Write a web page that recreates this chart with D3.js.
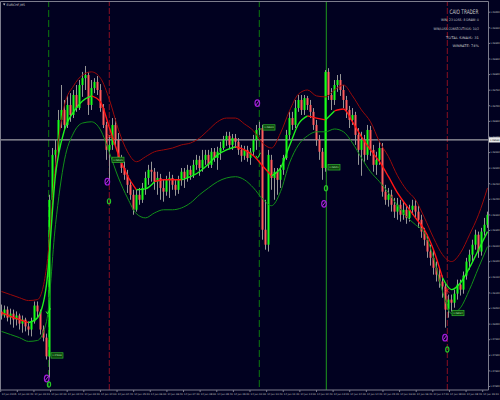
<!DOCTYPE html>
<html>
<head>
<meta charset="utf-8">
<script src="https://cdn.jsdelivr.net/npm/d3@7"></script>
<style>
html, body { margin: 0; padding: 0; background: #010120; overflow: hidden; }
text { font-family: "DejaVu Sans", sans-serif; }
</style>
</head>
<body>
<div id="chart"></div>
<script>
// EURCHF M5 bars: [open, high, low, close]
const ohlc = [
[1.08039,1.08061,1.08013,1.08026],[1.08026,1.08058,1.08019,1.08045],[1.08045,1.08055,1.08007,1.08019],
[1.08019,1.08048,1.07997,1.08032],[1.08032,1.08045,1.07987,1.08013],[1.08013,1.08039,1.07994,1.08026],
[1.08026,1.08032,1.07981,1.08000],[1.08000,1.08026,1.07971,1.08013],[1.08013,1.08019,1.07975,1.07991],
[1.07991,1.08007,1.07962,1.07981],[1.07981,1.08019,1.07959,1.08007],[1.08007,1.08071,1.08000,1.08058],
[1.08058,1.08071,1.08019,1.08039],[1.08039,1.08045,1.07965,1.07981],[1.07981,1.07994,1.07943,1.07955],
[1.07955,1.07968,1.07885,1.07895],[1.07895,1.08413,1.07827,1.08397],[1.08397,1.08563,1.08381,1.08541],
[1.08541,1.08589,1.08477,1.08557],[1.08557,1.08685,1.08541,1.08653],[1.08653,1.08765,1.08627,1.08685],
[1.08685,1.08717,1.08621,1.08637],[1.08637,1.08733,1.08627,1.08701],[1.08701,1.08739,1.08647,1.08669],
[1.08669,1.08749,1.08659,1.08733],[1.08733,1.08765,1.08679,1.08691],[1.08691,1.08781,1.08685,1.08765],
[1.08765,1.08807,1.08727,1.08787],[1.08787,1.08826,1.08749,1.08797],[1.08797,1.08807,1.08669,1.08701],
[1.08701,1.08781,1.08685,1.08755],[1.08755,1.08787,1.08739,1.08775],[1.08775,1.08794,1.08733,1.08749],
[1.08749,1.08768,1.08679,1.08691],[1.08691,1.08704,1.08627,1.08637],[1.08637,1.08647,1.08525,1.08557],
[1.08557,1.08605,1.08461,1.08573],[1.08573,1.08659,1.08557,1.08637],[1.08637,1.08659,1.08567,1.08589],
[1.08589,1.08611,1.08519,1.08531],[1.08531,1.08541,1.08483,1.08499],[1.08499,1.08519,1.08461,1.08477],
[1.08477,1.08493,1.08419,1.08445],[1.08445,1.08461,1.08397,1.08413],[1.08413,1.08429,1.08349,1.08365],
[1.08365,1.08429,1.08359,1.08413],[1.08413,1.08435,1.08381,1.08397],[1.08397,1.08451,1.08387,1.08435],
[1.08435,1.08487,1.08413,1.08467],[1.08467,1.08509,1.08445,1.08493],[1.08493,1.08519,1.08455,1.08487],
[1.08487,1.08499,1.08429,1.08455],[1.08455,1.08487,1.08413,1.08467],[1.08467,1.08480,1.08397,1.08435],
[1.08435,1.08461,1.08391,1.08423],[1.08423,1.08474,1.08410,1.08461],[1.08461,1.08487,1.08403,1.08467],
[1.08467,1.08477,1.08429,1.08445],[1.08445,1.08461,1.08410,1.08429],[1.08429,1.08474,1.08416,1.08461],
[1.08461,1.08499,1.08442,1.08487],[1.08487,1.08499,1.08435,1.08467],[1.08467,1.08509,1.08455,1.08493],
[1.08493,1.08506,1.08461,1.08477],[1.08477,1.08525,1.08467,1.08509],[1.08509,1.08541,1.08493,1.08525],
[1.08525,1.08538,1.08474,1.08499],[1.08499,1.08557,1.08487,1.08525],[1.08525,1.08557,1.08509,1.08541],
[1.08541,1.08557,1.08499,1.08509],[1.08509,1.08563,1.08499,1.08551],[1.08551,1.08563,1.08519,1.08531],
[1.08531,1.08567,1.08493,1.08551],[1.08551,1.08583,1.08525,1.08563],[1.08563,1.08602,1.08557,1.08589],
[1.08589,1.08615,1.08570,1.08602],[1.08602,1.08615,1.08563,1.08573],[1.08573,1.08608,1.08557,1.08595],
[1.08595,1.08608,1.08563,1.08583],[1.08583,1.08595,1.08541,1.08557],[1.08557,1.08573,1.08519,1.08538],
[1.08538,1.08570,1.08525,1.08557],[1.08557,1.08570,1.08519,1.08531],[1.08531,1.08563,1.08509,1.08551],
[1.08551,1.08605,1.08538,1.08589],[1.08589,1.08637,1.08557,1.08621],[1.08621,1.08647,1.08605,1.08627],
[1.08627,1.08637,1.08269,1.08301],[1.08301,1.08397,1.08237,1.08253],[1.08253,1.08557,1.08231,1.08541],
[1.08525,1.08541,1.08429,1.08467],[1.08467,1.08499,1.08397,1.08487],[1.08487,1.08499,1.08413,1.08461],
[1.08461,1.08509,1.08435,1.08493],[1.08493,1.08541,1.08477,1.08531],[1.08531,1.08621,1.08525,1.08605],
[1.08605,1.08679,1.08589,1.08659],[1.08659,1.08679,1.08621,1.08637],[1.08637,1.08717,1.08627,1.08691],
[1.08691,1.08733,1.08679,1.08717],[1.08717,1.08733,1.08669,1.08685],[1.08685,1.08733,1.08669,1.08723],
[1.08723,1.08730,1.08685,1.08701],[1.08701,1.08717,1.08659,1.08679],[1.08679,1.08691,1.08621,1.08637],
[1.08637,1.08653,1.08570,1.08589],[1.08589,1.08605,1.08525,1.08551],[1.08551,1.08563,1.08461,1.08499],
[1.08499,1.08813,1.08487,1.08807],[1.08807,1.08819,1.08717,1.08733],[1.08733,1.08755,1.08685,1.08717],
[1.08717,1.08781,1.08701,1.08765],[1.08765,1.08797,1.08743,1.08781],[1.08781,1.08800,1.08730,1.08749],
[1.08749,1.08765,1.08691,1.08717],[1.08717,1.08730,1.08659,1.08685],[1.08685,1.08698,1.08627,1.08653],
[1.08653,1.08691,1.08637,1.08669],[1.08669,1.08679,1.08573,1.08605],[1.08605,1.08627,1.08509,1.08557],
[1.08557,1.08615,1.08474,1.08589],[1.08589,1.08605,1.08519,1.08541],[1.08541,1.08637,1.08525,1.08621],
[1.08621,1.08634,1.08538,1.08557],[1.08557,1.08573,1.08487,1.08509],[1.08509,1.08551,1.08477,1.08525],
[1.08525,1.08583,1.08509,1.08563],[1.08563,1.08579,1.08407,1.08423],[1.08423,1.08445,1.08381,1.08397],
[1.08397,1.08435,1.08375,1.08413],[1.08413,1.08429,1.08359,1.08381],[1.08381,1.08403,1.08339,1.08359],
[1.08359,1.08403,1.08333,1.08381],[1.08381,1.08397,1.08327,1.08349],[1.08349,1.08391,1.08333,1.08365],
[1.08365,1.08381,1.08320,1.08339],[1.08339,1.08381,1.08327,1.08365],[1.08365,1.08397,1.08349,1.08378],
[1.08378,1.08397,1.08339,1.08359],[1.08359,1.08378,1.08307,1.08333],[1.08333,1.08349,1.08275,1.08295],
[1.08295,1.08307,1.08250,1.08269],[1.08269,1.08285,1.08211,1.08231],[1.08231,1.08253,1.08186,1.08211],
[1.08211,1.08237,1.08157,1.08179],[1.08179,1.08199,1.08135,1.08157],[1.08157,1.08179,1.08115,1.08135],
[1.08135,1.08154,1.08083,1.08119],[1.08119,1.08128,1.07987,1.08045],[1.08045,1.08093,1.08019,1.08077],
[1.08077,1.08093,1.08039,1.08067],[1.08067,1.08109,1.08051,1.08096],[1.08096,1.08141,1.08077,1.08125],
[1.08125,1.08141,1.08090,1.08109],[1.08109,1.08167,1.08096,1.08154],[1.08154,1.08211,1.08141,1.08199],
[1.08199,1.08237,1.08173,1.08221],[1.08221,1.08269,1.08199,1.08253],[1.08253,1.08301,1.08237,1.08285],
[1.08285,1.08295,1.08211,1.08231],[1.08231,1.08307,1.08218,1.08295],[1.08295,1.08339,1.08282,1.08317],
[1.08317,1.08359,1.08307,1.08349]
];

// channel, sampled every 3 bars
const upperBand = [1.08103,1.08093,1.08083,1.08074,1.08077,1.08179,1.08509,1.08701,1.08762,1.08797,1.08807,
  1.08787,1.08717,1.08621,1.08551,1.08519,1.08535,1.08551,1.08557,1.08563,1.08573,1.08579,1.08595,1.08621,
  1.08647,1.08659,1.08659,1.08640,1.08618,1.08579,1.08563,1.08611,1.08682,1.08736,1.08749,1.08730,1.08727,
  1.08749,1.08765,1.08730,1.08685,1.08647,1.08583,1.08535,1.08474,1.08429,1.08397,1.08339,1.08275,1.08221,
  1.08199,1.08227,1.08285,1.08349,1.08435];
const midBand = [1.08035,1.08023,1.08013,1.08003,1.08019,1.08125,1.08477,1.08621,1.08679,1.08714,1.08730,
  1.08711,1.08627,1.08541,1.08474,1.08429,1.08432,1.08455,1.08461,1.08461,1.08461,1.08471,1.08487,1.08512,
  1.08541,1.08557,1.08567,1.08557,1.08538,1.08506,1.08474,1.08499,1.08570,1.08640,1.08666,1.08659,1.08653,
  1.08682,1.08688,1.08647,1.08599,1.08557,1.08519,1.08471,1.08419,1.08378,1.08339,1.08301,1.08237,1.08147,
  1.08109,1.08131,1.08179,1.08237,1.08295];
const midTrend = "ddddu uuuuuuddddduudddu uuuuuddddu uuuddudddddddddddduuuuu".replace(/ /g, "");
const lowerBand = [1.07975,1.07965,1.07955,1.07943,1.07946,1.08007,1.08317,1.08525,1.08611,1.08643,1.08647,
  1.08621,1.08547,1.08467,1.08403,1.08352,1.08339,1.08355,1.08365,1.08365,1.08371,1.08387,1.08413,1.08435,
  1.08455,1.08467,1.08471,1.08461,1.08435,1.08400,1.08378,1.08423,1.08515,1.08573,1.08602,1.08615,1.08615,
  1.08624,1.08615,1.08579,1.08531,1.08487,1.08455,1.08419,1.08378,1.08343,1.08317,1.08291,1.08211,1.08103,
  1.08032,1.08051,1.08109,1.08179,1.08247];

const priceTicks = [1.0900,1.0895,1.0890,1.0885,1.0880,1.0875,1.0870,1.0865,1.0860,1.0855,1.0850,1.0845,
  1.0840,1.0835,1.0830,1.0825,1.0820,1.0815,1.0810,1.0805,1.0800,1.0795,1.0790,1.0785,1.0780];
const timeLabels = ["14 Jan 2015","14 Jan 00:40","14 Jan 01:20","14 Jan 02:00","14 Jan 02:40","14 Jan 03:20",
  "14 Jan 04:00","14 Jan 04:40","14 Jan 05:20","14 Jan 06:00","14 Jan 06:40","14 Jan 07:20","14 Jan 08:00",
  "14 Jan 08:40","14 Jan 09:20","14 Jan 10:00","14 Jan 10:40","14 Jan 11:20","14 Jan 12:00","14 Jan 12:40",
  "14 Jan 13:20","14 Jan 14:00","14 Jan 14:40","14 Jan 15:20","14 Jan 16:00","14 Jan 16:40","14 Jan 17:20",
  "14 Jan 18:00","14 Jan 18:40","14 Jan 19:20"];

const vLines = [
  { bar: 15.73, kind: "buy" }, { bar: 35.93, kind: "sell" }, { bar: 85.93, kind: "buy" },
  { bar: 108.27, kind: "now" }, { bar: 148.6, kind: "sell" }
];
const rings = [
  { bar: 15.07, price: 1.07824, kind: "p" }, { bar: 15.83, price: 1.07805, kind: "g" },
  { bar: 35.27, price: 1.08455, kind: "p" }, { bar: 35.83, price: 1.08392, kind: "g" },
  { bar: 85.27, price: 1.08707, kind: "p" },
  { bar: 108.17, price: 1.08434, kind: "g" }, { bar: 107.5, price: 1.08384, kind: "p" },
  { bar: 147.83, price: 1.07955, kind: "p" }, { bar: 148.6, price: 1.07917, kind: "g" }
];
const tags = [
  { bar: 16.5, price: 1.07898 }, { bar: 36.83, price: 1.08525 }, { bar: 87.17, price: 1.08629 },
  { bar: 108.83, price: 1.08501 }, { bar: 150.17, price: 1.08034 }
];
const wins = [{ bar: 15.5, price: 1.08039 }, { bar: 85.5, price: 1.08538 }];
const losses = [{ bar: 36, price: 1.08601 }, { bar: 148.5, price: 1.08106 }];
const linePrice = 1.08589;
const panelLines = ["WIN: 23 LOSS: 8 DRAW: 0", "WIN/LOSS CONSECUTIVOS: 10/2", "TOTAL SINAIS: 31", "WINRATE: 74%"];

const W = 500, H = 400, plotR = 488.5, plotB = 390;
const svg = d3.select("#chart").append("svg").attr("width", W).attr("height", H);
svg.append("rect").attr("width", W).attr("height", H).attr("fill", "#010120");

const x = d3.scaleLinear().domain([0, ohlc.length]).range([0, 489]);
const y = d3.scaleLinear().domain([1.0780, 1.0900]).range([386, 11.7]);
const xt = d3.scalePoint().domain(timeLabels).range([8.5, 490.5]);
const cx = b => x(b + 0.5);

svg.append("clipPath").attr("id", "plot")
  .append("rect").attr("x", 0).attr("y", 1).attr("width", plotR).attr("height", plotB - 1);
const plot = svg.append("g").attr("clip-path", "url(#plot)");

// signal lines
plot.selectAll(".vl").data(vLines).enter().append("line")
  .attr("x1", d => cx(d.bar)).attr("x2", d => cx(d.bar))
  .attr("y1", 0).attr("y2", plotB)
  .attr("stroke", d => d.kind == "sell" ? "#8a0f22" : (d.kind == "now" ? "#1f9a1f" : "#0d7a0d"))
  .attr("stroke-dasharray", d => d.kind == "sell" ? "6,2" : (d.kind == "now" ? null : "7,3"))
  .attr("stroke-width", 1);

plot.append("line").attr("x1", 0).attr("x2", plotR)
  .attr("y1", y(linePrice)).attr("y2", y(linePrice))
  .attr("stroke", "#c8c8c8").attr("stroke-width", 1);

// candles
const bars = plot.append("g").selectAll("g").data(ohlc).enter().append("g");
bars.append("line")
  .attr("x1", (d, i) => cx(i)).attr("x2", (d, i) => cx(i))
  .attr("y1", d => y(d[1])).attr("y2", d => y(d[2]))
  .attr("stroke", "#979797").attr("stroke-width", 1);
bars.append("rect")
  .attr("x", (d, i) => cx(i) - 1).attr("width", 2)
  .attr("y", d => y(Math.max(d[0], d[3])))
  .attr("height", d => Math.max(1, Math.abs(y(d[0]) - y(d[3]))))
  .attr("fill", d => d[3] >= d[0] ? "#19ff19" : "#ff5c5c");

// channel
const bandLine = arr => d3.line().x((d, k) => cx(k * 3)).y(d => y(d)).curve(d3.curveMonotoneX)(arr);
plot.append("path").attr("d", bandLine(upperBand)).attr("fill", "none")
  .attr("stroke", "#9a0a0a").attr("stroke-width", 1);
plot.append("path").attr("d", bandLine(lowerBand)).attr("fill", "none")
  .attr("stroke", "#12901a").attr("stroke-width", 1);

const runs = [];
for (let k = 1; k < midBand.length; k++) {
  const last = runs[runs.length - 1];
  if (last && last.t === midTrend[k]) last.pts.push(k);
  else runs.push({ t: midTrend[k], pts: [k - 1, k] });
}
const midLine = d3.line().x(k => cx(k * 3)).y(k => y(midBand[k])).curve(d3.curveMonotoneX);
plot.selectAll(".mid").data(runs).enter().append("path")
  .attr("d", d => midLine(d.pts)).attr("fill", "none")
  .attr("stroke", d => d.t == "u" ? "#1ef01e" : "#ff1414").attr("stroke-width", 1.4);

// signal marks
const rg = plot.selectAll(".ring").data(rings).enter().append("g")
  .attr("transform", d => "translate(" + cx(d.bar) + "," + y(d.price) + ")");
rg.append("ellipse")
  .attr("rx", d => d.kind == "p" ? 2.3 : 1.6).attr("ry", d => d.kind == "p" ? 3.3 : 2.6)
  .attr("fill", "none").attr("stroke", d => d.kind == "p" ? "#a31bd9" : "#27c427")
  .attr("stroke-width", 1.2);
rg.filter(d => d.kind == "p").append("line")
  .attr("x1", -1.3).attr("y1", 1.8).attr("x2", 1.3).attr("y2", -1.8)
  .attr("stroke", "#d040ff").attr("stroke-width", 0.8);

const tg = plot.selectAll(".tag").data(tags).enter().append("g")
  .attr("transform", d => "translate(" + cx(d.bar) + "," + y(d.price) + ")");
tg.append("rect").attr("x", 0).attr("y", -2.7).attr("width", 12).attr("height", 5.4)
  .attr("fill", "#0c440c").attr("stroke", "#2fb52f").attr("stroke-width", 0.7);
tg.append("text").attr("x", 6).attr("y", 0.9).attr("text-anchor", "middle")
  .attr("font-size", 2.3).attr("fill", "#b8e8b8")
  .text(d => d3.format(".5f")(d.price));

plot.selectAll(".win").data(wins).enter().append("path")
  .attr("transform", d => "translate(" + cx(d.bar) + "," + y(d.price) + ")")
  .attr("d", "M-2,0L-0.5,2.5L2.5,-3").attr("fill", "none")
  .attr("stroke", "#2cff2c").attr("stroke-width", 0.9);
plot.selectAll(".loss").data(losses).enter().append("path")
  .attr("transform", d => "translate(" + cx(d.bar) + "," + y(d.price) + ")")
  .attr("d", "M-2,-2L2,2M-2,2L2,-2").attr("fill", "none")
  .attr("stroke", "#ff2020").attr("stroke-width", 0.9);

// frame and axes
svg.append("path").attr("d", "M0.5," + plotB + "V1.5H" + plotR + "V" + plotB + "H0.5")
  .attr("fill", "none").attr("stroke", "#7c7c8c").attr("stroke-width", 1);

const ay = svg.append("g").attr("transform", "translate(" + plotR + ",0)")
  .call(d3.axisRight(y).tickValues(priceTicks).tickSize(1.5).tickFormat(d3.format(".5f")));
ay.select(".domain").remove();
ay.selectAll("line").attr("stroke", "#7c7c8c");
ay.selectAll("text").attr("x", 1.8).attr("font-size", 2.3).attr("fill", "#c4c4c4");

const ax = svg.append("g").attr("transform", "translate(0," + plotB + ")")
  .call(d3.axisBottom(xt).tickSize(0));
ax.select(".domain").remove();
ax.selectAll("text").attr("y", 3.4).attr("dy", "0.71em").attr("font-size", 2.45).attr("fill", "#c4c4c4");
ax.selectAll(".tick").append("line")
  .attr("x1", -8.3).attr("x2", -8.3).attr("y1", 0).attr("y2", 2).attr("stroke", "#7c7c8c");

// current price tag on the axis
svg.append("rect").attr("x", plotR + 0.5).attr("y", y(linePrice) - 2.6).attr("width", 11).attr("height", 5.2)
  .attr("fill", "#e8e8e8");
svg.append("text").attr("x", plotR + 1.5).attr("y", y(linePrice) + 0.9).attr("font-size", 2.3)
  .attr("fill", "#101020").text(d3.format(".5f")(linePrice));

// titles
svg.append("path").attr("d", "M3,3.4H5.4L4.2,5.4Z").attr("fill", "#d0d0d0");
svg.append("text").attr("x", 6.5).attr("y", 5.6).attr("font-size", 3.2).attr("fill", "#d0d0d0")
  .text("EURCHF,M5");

svg.append("text").attr("x", 478.5).attr("y", 13.6).attr("text-anchor", "end")
  .attr("font-size", 6.2).attr("fill", "#c8c8c8")
  .attr("textLength", 29).attr("lengthAdjust", "spacingAndGlyphs").text("CAIO TRADER");
const panelW = [38, 45.5, 33, 26.5];
svg.selectAll(".panel").data(panelLines).enter().append("text")
  .attr("x", 479).attr("y", (d, i) => [21.3, 29.6, 38.5, 46.5][i]).attr("text-anchor", "end")
  .attr("font-size", 3.3).attr("fill", "#c8c8c8")
  .attr("textLength", (d, i) => panelW[i]).attr("lengthAdjust", "spacingAndGlyphs")
  .text(d => d);
</script>
</body>
</html>
